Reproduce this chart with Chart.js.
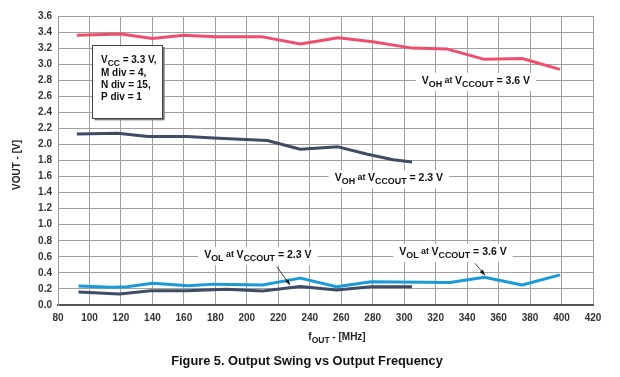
<!DOCTYPE html>
<html>
<head>
<meta charset="utf-8">
<script src="https://cdn.jsdelivr.net/npm/chart.js@4/dist/chart.umd.min.js"></script>
<style>
  html, body { margin: 0; padding: 0; background: #fff; }
  #wrap { width: 620px; height: 377px; position: relative; }
</style>
</head>
<body>
<div id="wrap"><canvas id="swing"></canvas></div>
<script>
// data (MHz, V)
const freqOH36 = [92, 120, 140, 160, 180, 210, 234, 258, 280, 305, 327, 351, 375, 399];
const voh36 = [3.36, 3.375, 3.32, 3.36, 3.34, 3.34, 3.25, 3.33, 3.28, 3.20, 3.19, 3.06, 3.07, 2.935];

const freqOH23 = [92, 118, 137, 162, 179, 213, 234, 258, 276, 293, 305];
const voh23 = [2.13, 2.14, 2.10, 2.10, 2.08, 2.05, 1.94, 1.97, 1.88, 1.81, 1.78];

const freqOL36 = [93, 114, 124, 140, 163, 179, 210, 234, 257, 279, 329, 351, 375, 399];
const vol36 = [0.237, 0.22, 0.228, 0.27, 0.24, 0.26, 0.25, 0.335, 0.228, 0.29, 0.28, 0.345, 0.25, 0.375];

const freqOL23 = [93, 119, 139, 162, 187, 210, 234, 257, 279, 305];
const vol23 = [0.162, 0.137, 0.178, 0.178, 0.195, 0.174, 0.23, 0.187, 0.228, 0.228];

const xTicks = [80, 100, 120, 140, 160, 180, 200, 220, 240, 260, 280, 300, 320, 340, 360, 380, 400, 420];
const yTicks = [0, 0.2, 0.4, 0.6, 0.8, 1.0, 1.2, 1.4, 1.6, 1.8, 2.0, 2.2, 2.4, 2.6, 2.8, 3.0, 3.2, 3.4, 3.6];

const FONT = '"Liberation Sans", Arial, sans-serif';
const SUB = 0.85;

function pts(xs, ys) {
  return xs.map((x, i) => ({ x: x, y: ys[i] }));
}

// text with subscripts: parts = [[text, kind]] kind: 'n' normal, 's' sub, 't' small
function richWidth(ctx, parts, size) {
  let w = 0;
  parts.forEach(p => {
    ctx.font = 'bold ' + (p[1] === 'n' ? size : size * SUB) + 'px ' + FONT;
    w += ctx.measureText(p[0]).width;
  });
  return w;
}
function drawRich(ctx, parts, cx, cy, size, align) {
  const w = richWidth(ctx, parts, size);
  let x = align === 'left' ? cx : cx - w / 2;
  ctx.textBaseline = 'middle';
  ctx.textAlign = 'left';
  parts.forEach(p => {
    const s = p[1] === 'n' ? size : size * SUB;
    ctx.font = 'bold ' + s + 'px ' + FONT;
    const dy = p[1] === 's' ? size * 0.35 : (p[1] === 't' ? -size * 0.05 : 0);
    ctx.fillText(p[0], x, cy + dy);
    x += ctx.measureText(p[0]).width;
  });
  return w;
}

const labels = [
  { x: 345.6, y: 2.79, parts: [['V', 'n'], ['OH', 's'], [' at ', 't'], ['V', 'n'], ['CCOUT', 's'], [' = 3.6 V', 'n']] },
  { x: 290.3, y: 1.58, parts: [['V', 'n'], ['OH', 's'], [' at ', 't'], ['V', 'n'], ['CCOUT', 's'], [' = 2.3 V', 'n']] },
  { x: 207, y: 0.62, parts: [['V', 'n'], ['OL', 's'], [' at ', 't'], ['V', 'n'], ['CCOUT', 's'], [' = 2.3 V', 'n']] },
  { x: 331, y: 0.66, parts: [['V', 'n'], ['OL', 's'], [' at ', 't'], ['V', 'n'], ['CCOUT', 's'], [' = 3.6 V', 'n']] }
];
const arrows = [
  { x1: 219, y1: 0.477, x2: 227.5, y2: 0.25 },
  { x1: 345, y1: 0.52, x2: 351.3, y2: 0.372 }
];

const annot = {
  id: 'annot',
  afterDatasetsDraw(chart) {
    const ctx = chart.ctx;
    const xs = chart.scales.x, ys = chart.scales.y;
    ctx.save();
    ctx.fillStyle = '#111';

    // labels with white backing over grid
    labels.forEach(l => {
      const cx = xs.getPixelForValue(l.x), cy = ys.getPixelForValue(l.y);
      const w = richWidth(ctx, l.parts, 10.5);
      ctx.fillStyle = '#fff';
      ctx.fillRect(cx - w / 2 - 6, cy - 8, w + 12, 18);
      ctx.fillStyle = '#111';
      drawRich(ctx, l.parts, cx, cy, 10.5, 'center');
    });

    // arrows
    arrows.forEach(a => {
      const x1 = xs.getPixelForValue(a.x1), y1 = ys.getPixelForValue(a.y1);
      const x2 = xs.getPixelForValue(a.x2), y2 = ys.getPixelForValue(a.y2);
      ctx.strokeStyle = '#111';
      ctx.lineWidth = 0.8;
      ctx.beginPath();
      ctx.moveTo(x1, y1);
      ctx.lineTo(x2, y2);
      ctx.stroke();
      const ang = Math.atan2(y2 - y1, x2 - x1);
      ctx.beginPath();
      ctx.moveTo(x2, y2);
      ctx.lineTo(x2 - 6 * Math.cos(ang - 0.35), y2 - 6 * Math.sin(ang - 0.35));
      ctx.lineTo(x2 - 6 * Math.cos(ang + 0.35), y2 - 6 * Math.sin(ang + 0.35));
      ctx.closePath();
      ctx.fill();
    });

    // conditions box
    const bx1 = xs.getPixelForValue(101.9), bx2 = xs.getPixelForValue(146.5);
    const by1 = ys.getPixelForValue(3.24), by2 = ys.getPixelForValue(2.325);
    ctx.fillStyle = '#777';
    ctx.fillRect(bx1 + 2, by1 + 2, bx2 - bx1, by2 - by1);
    ctx.fillStyle = '#fff';
    ctx.fillRect(bx1, by1, bx2 - bx1, by2 - by1);
    ctx.strokeStyle = '#444';
    ctx.lineWidth = 1;
    ctx.strokeRect(Math.round(bx1) + 0.5, Math.round(by1) + 0.5, Math.round(bx2 - bx1), Math.round(by2 - by1));
    ctx.fillStyle = '#111';
    const tx = bx1 + 8.5;
    drawRich(ctx, [['V', 'n'], ['CC', 's'], [' = 3.3 V,', 'n']], tx, by1 + 15, 10, 'left');
    drawRich(ctx, [['M div = 4,', 'n']], tx, by1 + 28.5, 10, 'left');
    drawRich(ctx, [['N div = 15,', 'n']], tx, by1 + 40.5, 10, 'left');
    drawRich(ctx, [['P div = 1', 'n']], tx, by1 + 52, 10, 'left');

    // axis titles and figure caption
    ctx.fillStyle = '#222';
    drawRich(ctx, [['f', 'n'], ['OUT', 's'], [' - [MHz]', 'n']], 337, 337, 10, 'center');
    ctx.save();
    ctx.translate(17, 165);
    ctx.rotate(-Math.PI / 2);
    drawRich(ctx, [['VOUT - [V]', 'n']], 0, 0, 10, 'center');
    ctx.restore();
    ctx.fillStyle = '#111';
    ctx.font = 'bold 12.8px ' + FONT;
    ctx.textAlign = 'center';
    ctx.textBaseline = 'middle';
    ctx.fillText('Figure 5. Output Swing vs Output Frequency', 307, 361);
    ctx.restore();
  }
};

new Chart(document.getElementById('swing'), {
  type: 'line',
  data: {
    datasets: [
      { label: 'VOH at VCCOUT = 3.6 V', data: pts(freqOH36, voh36), borderColor: '#ee4f6c', borderWidth: 3 },
      { label: 'VOH at VCCOUT = 2.3 V', data: pts(freqOH23, voh23), borderColor: '#3e4d64', borderWidth: 3 },
      { label: 'VOL at VCCOUT = 2.3 V', data: pts(freqOL23, vol23), borderColor: '#3e4d64', borderWidth: 3 },
      { label: 'VOL at VCCOUT = 3.6 V', data: pts(freqOL36, vol36), borderColor: '#1a9ad8', borderWidth: 3 }
    ]
  },
  options: {
    responsive: true,
    maintainAspectRatio: false,
    animation: false,
    layout: { padding: { top: 16, right: 27, left: 0, bottom: 0 } },
    elements: { point: { radius: 0 }, line: { tension: 0, fill: false, borderJoinStyle: 'round', borderCapStyle: 'butt' } },
    plugins: { legend: { display: false }, tooltip: { enabled: false } },
    scales: {
      x: {
        type: 'linear',
        min: 80,
        max: 420,
        afterBuildTicks: s => { s.ticks = xTicks.map(v => ({ value: v })); },
        afterFit: s => { s.height = 72; },
        grid: { color: '#a0a0a0', lineWidth: 1, drawTicks: false },
        border: { color: '#555', width: 2 },
        ticks: { padding: 7, color: '#333', font: { family: FONT, size: 10, weight: 'bold' }, maxRotation: 0, autoSkip: false }
      },
      y: {
        min: 0,
        max: 3.6,
        afterBuildTicks: s => { s.ticks = yTicks.map(v => ({ value: v })); },
        afterFit: s => { s.width = 58; },
        grid: { color: '#a0a0a0', lineWidth: 1, drawTicks: false },
        border: { color: '#999', width: 1 },
        ticks: { padding: 6, color: '#333', font: { family: FONT, size: 10, weight: 'bold' }, callback: v => v.toFixed(1), autoSkip: false }
      }
    }
  },
  plugins: [annot]
});
</script>
</body>
</html>
